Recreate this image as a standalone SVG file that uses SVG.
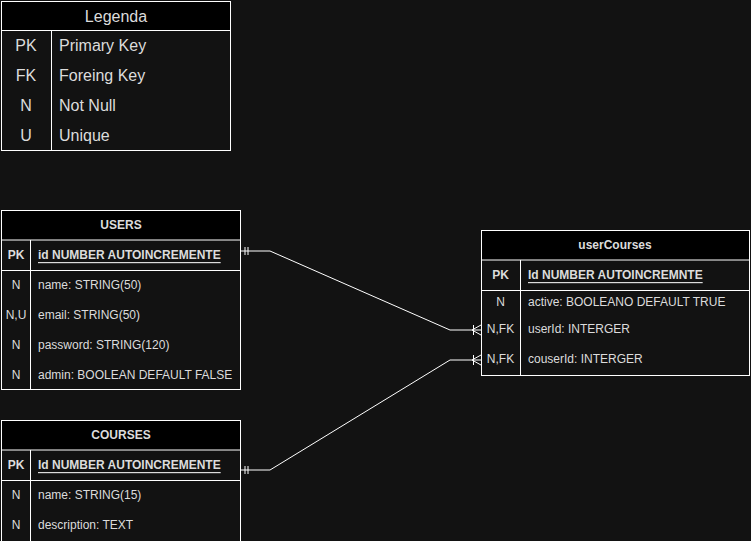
<svg xmlns="http://www.w3.org/2000/svg" width="751" height="541" viewBox="0 0 751 541">
<style>
.bg{fill:#121212}
.box{fill:#121212;stroke:#ffffff;stroke-width:1}
.hdr{fill:#000000;stroke:#ffffff;stroke-width:1}
.ln{stroke:#ffffff;stroke-width:1;fill:none}
.t16{font-family:"Liberation Sans",Arial,sans-serif;font-size:16px;fill:#dcdcdc;dominant-baseline:central}
.t12{font-family:"Liberation Sans",Arial,sans-serif;font-size:12px;fill:#dcdcdc;dominant-baseline:central}
.b{font-weight:bold}
.u{text-decoration:underline}
.c{text-anchor:middle}
.con{stroke:#ffffff;stroke-width:1;fill:none}
</style>
<rect class="bg" x="0" y="0" width="751" height="541"/>

<g id="legenda">
<rect class="box" x="1.5" y="1.5" width="229" height="149"/>
<rect class="hdr" x="1.5" y="1.5" width="229" height="29"/>
<line class="ln" x1="51.5" y1="30.5" x2="51.5" y2="150.5"/>
<text class="t16 c" x="116" y="16">Legenda</text>
<text class="t16 c" x="26" y="45">PK</text>
<text class="t16" x="59" y="45">Primary Key</text>
<text class="t16 c" x="26" y="75">FK</text>
<text class="t16" x="59" y="75">Foreing Key</text>
<text class="t16 c" x="26" y="105">N</text>
<text class="t16" x="59" y="105">Not Null</text>
<text class="t16 c" x="26" y="135">U</text>
<text class="t16" x="59" y="135">Unique</text>
</g>

<g id="users">
<rect class="box" x="1.5" y="210.5" width="239" height="179"/>
<rect class="hdr" x="1.5" y="210.5" width="239" height="29.5"/>
<line class="ln" x1="1.5" y1="270.5" x2="240.5" y2="270.5"/>
<line class="ln" x1="30.5" y1="240" x2="30.5" y2="389.5"/>
<text class="t12 b c" x="121" y="225">USERS</text>
<text class="t12 b c" x="16" y="255">PK</text>
<text class="t12 b u" x="38" y="255">id NUMBER AUTOINCREMENTE</text>
<text class="t12 c" x="16" y="285">N</text>
<text class="t12" x="38" y="285">name: STRING(50)</text>
<text class="t12 c" x="16" y="315">N,U</text>
<text class="t12" x="38" y="315">email: STRING(50)</text>
<text class="t12 c" x="16" y="345">N</text>
<text class="t12" x="38" y="345">password: STRING(120)</text>
<text class="t12 c" x="16" y="375">N</text>
<text class="t12" x="38" y="375">admin: BOOLEAN DEFAULT FALSE</text>
</g>

<g id="courses">
<rect class="box" x="1.5" y="420.5" width="239" height="130"/>
<rect class="hdr" x="1.5" y="420.5" width="239" height="29.5"/>
<line class="ln" x1="1.5" y1="480.5" x2="240.5" y2="480.5"/>
<line class="ln" x1="30.5" y1="450" x2="30.5" y2="541"/>
<text class="t12 b c" x="121" y="435">COURSES</text>
<text class="t12 b c" x="16" y="465">PK</text>
<text class="t12 b u" x="38" y="465">Id NUMBER AUTOINCREMENTE</text>
<text class="t12 c" x="16" y="495">N</text>
<text class="t12" x="38" y="495">name: STRING(15)</text>
<text class="t12 c" x="16" y="525">N</text>
<text class="t12" x="38" y="525">description: TEXT</text>
</g>

<g id="userCourses">
<rect class="box" x="481.5" y="230.5" width="268" height="145"/>
<rect class="hdr" x="481.5" y="230.5" width="268" height="29.5"/>
<line class="ln" x1="481.5" y1="290.5" x2="749.5" y2="290.5"/>
<line class="ln" x1="520.5" y1="260" x2="520.5" y2="375.5"/>
<text class="t12 b c" x="615" y="245">userCourses</text>
<text class="t12 b c" x="500.5" y="275">PK</text>
<text class="t12 b u" x="528" y="275">Id NUMBER AUTOINCREMNTE</text>
<text class="t12 c" x="500.5" y="302">N</text>
<text class="t12" x="528" y="302">active: BOOLEANO DEFAULT TRUE</text>
<text class="t12 c" x="500.5" y="329">N,FK</text>
<text class="t12" x="528" y="329">userId: INTERGER</text>
<text class="t12 c" x="500.5" y="359">N,FK</text>
<text class="t12" x="528" y="359">couserId: INTERGER</text>
</g>

<g id="connectors">
<path class="con" d="M240.5 251 H270 L450 330 H481"/>
<path class="con" d="M245 247 V255 M248 247 V255"/>
<path class="con" d="M473.5 325 V335 M472 330 L481 325 M472 330 L481 335"/>
<path class="con" d="M240.5 470 H270 L450 360 H481"/>
<path class="con" d="M245 466 V474 M248 466 V474"/>
<path class="con" d="M473.5 355 V365 M472 360 L481 355 M472 360 L481 365"/>
</g>
</svg>
